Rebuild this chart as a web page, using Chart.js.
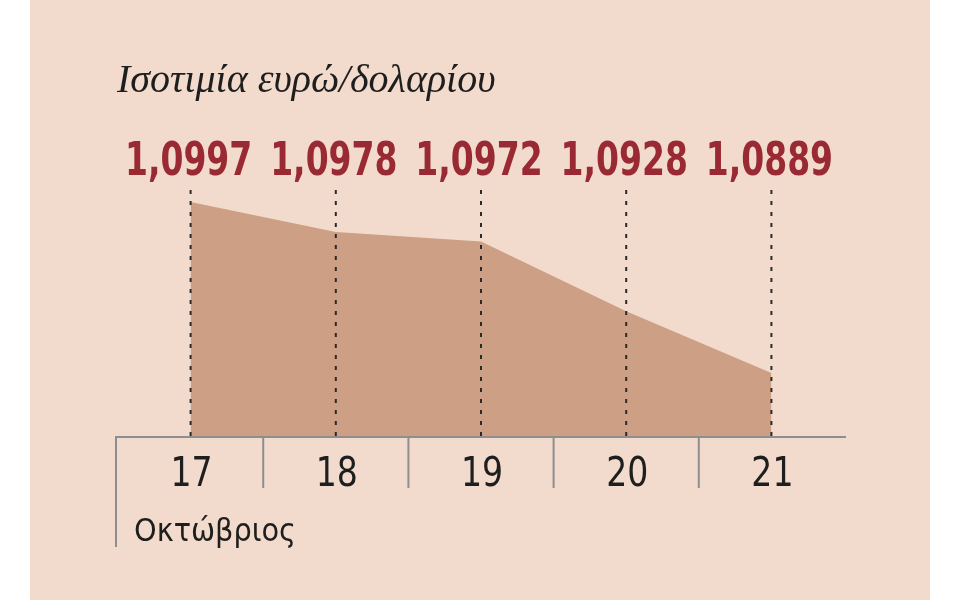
<!DOCTYPE html>
<html>
<head>
<meta charset="utf-8">
<script src="https://cdn.jsdelivr.net/npm/chart.js@4.4.1/dist/chart.umd.min.js"></script>
<style>
html,body{margin:0;padding:0;background:#ffffff;}
#wrap{width:960px;height:600px;position:relative;}
</style>
</head>
<body>
<div id="wrap"><canvas id="c" width="960" height="600"></canvas></div>
<script>
const days = ['17', '18', '19', '20', '21'];
const rates = [1.0997, 1.0978, 1.0972, 1.0928, 1.0889];
const titleText = 'Ισοτιμία ευρώ/δολαρίου';
const monthText = 'Οκτώβριος';

function squeezeText(ctx, text, x, y, sx) {
  ctx.save();
  ctx.translate(x, y);
  ctx.scale(sx, 1);
  ctx.fillText(text, 0, 0);
  ctx.restore();
}

const decor = {
  id: 'decor',
  beforeDraw(chart) {
    const ctx = chart.ctx;
    ctx.save();
    ctx.fillStyle = '#f2dbcc';
    ctx.fillRect(30, 0, 900, 600);
    ctx.restore();
  },
  afterDatasetsDraw(chart) {
    const ctx = chart.ctx;
    const x = chart.scales.x;
    const ca = chart.chartArea;
    const pts = days.map((d, i) => x.getPixelForValue(i));
    ctx.save();
    // dashed verticals
    ctx.strokeStyle = '#2a2a2a';
    ctx.lineWidth = 2;
    ctx.setLineDash([4, 7]);
    pts.forEach(px => {
      ctx.beginPath();
      ctx.moveTo(px, ca.top);
      ctx.lineTo(px, ca.bottom);
      ctx.stroke();
    });
    ctx.setLineDash([]);
    // axis line
    ctx.strokeStyle = '#8e8e8e';
    ctx.lineWidth = 2;
    ctx.beginPath();
    ctx.moveTo(ca.left - 3, ca.bottom + 1);
    ctx.lineTo(ca.right + 2, ca.bottom + 1);
    ctx.stroke();
    // separators
    const seps = [ca.left - 2];
    for (let i = 0; i < pts.length - 1; i++) seps.push((pts[i] + pts[i + 1]) / 2);
    seps.forEach((sx, i) => {
      ctx.beginPath();
      ctx.moveTo(sx, ca.bottom + 1);
      ctx.lineTo(sx, i === 0 ? ca.bottom + 111 : ca.bottom + 52);
      ctx.stroke();
    });
    // tick labels
    ctx.fillStyle = '#1e1e1e';
    ctx.textAlign = 'center';
    ctx.textBaseline = 'alphabetic';
    ctx.font = '40px "DejaVu Sans Condensed", "Liberation Sans", sans-serif';
    days.forEach((d, i) => squeezeText(ctx, d, pts[i] + 1, ca.bottom + 50, 0.92));
    // month
    ctx.textAlign = 'left';
    ctx.font = '32px "DejaVu Sans Condensed", "Liberation Sans", sans-serif';
    ctx.fillText(monthText, 134, 541);
    // values
    ctx.fillStyle = '#992a33';
    ctx.textAlign = 'center';
    ctx.font = 'bold 47px "DejaVu Sans Condensed", "Liberation Sans", sans-serif';
    rates.forEach((v, i) => squeezeText(ctx, v.toFixed(4).replace('.', ','), pts[i] - 2, 175, 0.78));
    // title
    ctx.fillStyle = '#1e1e1e';
    ctx.textAlign = 'left';
    ctx.font = 'italic 40px "Liberation Serif", "DejaVu Serif", serif';
    ctx.fillText(titleText, 117, 92);
    ctx.restore();
  }
};

new Chart(document.getElementById('c'), {
  type: 'line',
  data: {
    labels: days,
    datasets: [{
      data: rates,
      fill: 'start',
      backgroundColor: '#cd9f85',
      borderWidth: 0,
      borderColor: 'rgba(0,0,0,0)',
      pointRadius: 0,
      tension: 0
    }]
  },
  options: {
    responsive: false,
    animation: false,
    devicePixelRatio: 1,
    layout: { padding: { left: 118, right: 116, top: 190, bottom: 164 } },
    plugins: { legend: { display: false }, tooltip: { enabled: false }, title: { display: false } },
    scales: {
      x: { type: 'category', offset: true, display: false },
      y: { display: false, min: 1.08492, max: 1.10046 }
    }
  },
  plugins: [decor]
});
</script>
</body>
</html>
